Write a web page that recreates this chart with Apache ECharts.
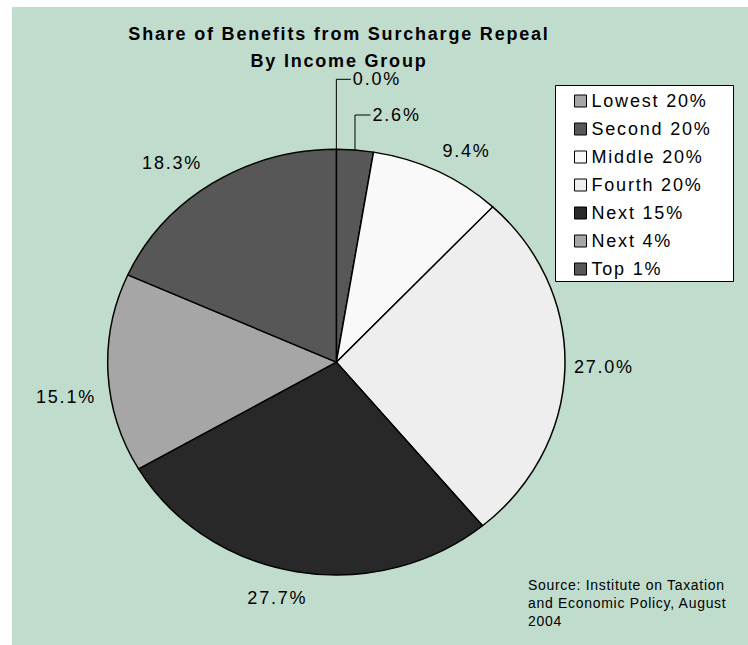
<!DOCTYPE html>
<html><head><meta charset="utf-8">
<script src="https://cdn.jsdelivr.net/npm/echarts/dist/echarts.min.js"></script>
<style>
html,body{margin:0;padding:0;background:#fff;}
#wrap{position:relative;width:748px;height:645px;overflow:hidden;}
#main,#pie{position:absolute;left:0;top:0;width:748px;height:645px;}
#pie{pointer-events:none;transform-origin:336.35px 362.15px;transform:scaleY(0.9309);}
#main text{letter-spacing:0.1em;}
</style></head>
<body><div id="wrap"><div id="main"></div><div id="pie"></div></div>
<script>
// ---- data ----
const groups = ['Lowest 20%', 'Second 20%', 'Middle 20%', 'Fourth 20%', 'Next 15%', 'Next 4%', 'Top 1%'];
const shares = [0.0, 2.6, 9.4, 27.0, 27.7, 15.1, 18.3];
const titleLines = ['Share of Benefits from Surcharge Repeal', 'By Income Group'];
const sourceLines = ['Source: Institute on Taxation', 'and Economic Policy, August', '2004'];

// ---- style / layout ----
const sliceColors = ['#A6A6A6', '#575757', '#F9F9F9', '#EEEEEE', '#282828', '#A6A6A6', '#575757'];
const FONT = 'Liberation Sans, Arial, sans-serif';
const CX = 336.35, CY = 362.15, RX = 228.65, RY = 212.85;
const labelNudge = [null, null, [29, -20], [39, -1], [-19, 26], [-42, 24], [-40, -20]];
const leaderRise = [70, 35];
const leaderRun = [14.5, 15.5];

const total = shares.reduce((a, b) => a + b, 0);
function edgePoint(i) {
  let cum = 0;
  for (let k = 0; k < i; k++) cum += shares[k];
  const th = 2 * Math.PI * (cum + shares[i] / 2) / total;
  return [CX + RX * Math.sin(th), CY - RY * Math.cos(th)];
}

// ---- pie layer (elliptical via vertical scale) ----
const pieChart = echarts.init(document.getElementById('pie'), null, {renderer: 'svg', width: 748, height: 645});
pieChart.setOption({
  animation: false,
  series: [{
    type: 'pie', center: [CX, CY], radius: RX, startAngle: 90, clockwise: true,
    silent: true, avoidLabelOverlap: false,
    label: {show: false}, labelLine: {show: false},
    itemStyle: {borderColor: '#000', borderWidth: 1.5},
    data: groups.map((g, i) => ({name: g, value: shares[i], itemStyle: {color: sliceColors[i]}}))
  }]
});

// ---- main layer: background, title, legend, labels, source ----
const mainChart = echarts.init(document.getElementById('main'), null, {renderer: 'svg', width: 748, height: 645});
mainChart.setOption({
  animation: false,
  graphic: [
    {type: 'rect', z: -100, silent: true, shape: {x: 12, y: 7, width: 736, height: 638}, style: {fill: '#C0DCCD'}},
    {type: 'rect', z: 1, silent: true, shape: {x: 555.5, y: 85.5, width: 178, height: 196}, style: {fill: '#fff', stroke: '#000', lineWidth: 1}},
    {type: 'text', z: 10, x: 339, y: 20, silent: true,
      style: {text: titleLines.join('\n'), fill: '#000', font: 'bold 18px ' + FONT, textAlign: 'center', textVerticalAlign: 'top', lineHeight: 27}},
    {type: 'text', z: 10, x: 528, y: 576, silent: true,
      style: {text: sourceLines.join('\n'), fill: '#000', font: '14px ' + FONT, textAlign: 'left', textVerticalAlign: 'top', lineHeight: 18}}
  ],
  legend: {
    orient: 'vertical', left: 574, top: 92, itemWidth: 12, itemHeight: 12, itemGap: 10,
    icon: 'rect', selectedMode: false, padding: 0, z: 5,
    textStyle: {fontSize: 18, fontFamily: FONT, color: '#000'},
    data: groups.map((g, i) => ({name: g, itemStyle: {color: sliceColors[i], borderColor: '#000', borderWidth: 1}}))
  },
  series: [{
    type: 'pie', center: [CX, CY], radius: RX, startAngle: 90, clockwise: true,
    silent: true, avoidLabelOverlap: false,
    itemStyle: {color: 'rgba(0,0,0,0)', borderWidth: 0},
    label: {show: true, position: 'outside', color: '#000', fontSize: 18, fontFamily: FONT,
      formatter: p => p.value.toFixed(1) + '%'},
    labelLine: {show: false, length: 5, length2: 5, lineStyle: {color: '#000', width: 1}},
    labelLayout: function (params) {
      const i = params.dataIndex;
      const e = edgePoint(i);
      if (i < 2) {
        const ly = e[1] - leaderRise[i];
        return {x: e[0] + leaderRun[i] + 2, y: ly, align: 'left', verticalAlign: 'middle',
          labelLinePoints: [[e[0], e[1]], [e[0], ly], [e[0] + leaderRun[i], ly]]};
      }
      const n = labelNudge[i];
      return {x: e[0] + n[0], y: e[1] + n[1], align: 'center', verticalAlign: 'middle'};
    },
    data: groups.map((g, i) => ({name: g, value: shares[i], labelLine: {show: i < 2}}))
  }]
});

function applySpacing() {
  document.querySelectorAll('#main text').forEach(t => {
    const fs = parseFloat(getComputedStyle(t).fontSize);
    t.style.letterSpacing = fs < 15 ? '0.05em' : '0.1em';
  });
}
mainChart.on('finished', applySpacing);
applySpacing();
</script>
</body></html>
